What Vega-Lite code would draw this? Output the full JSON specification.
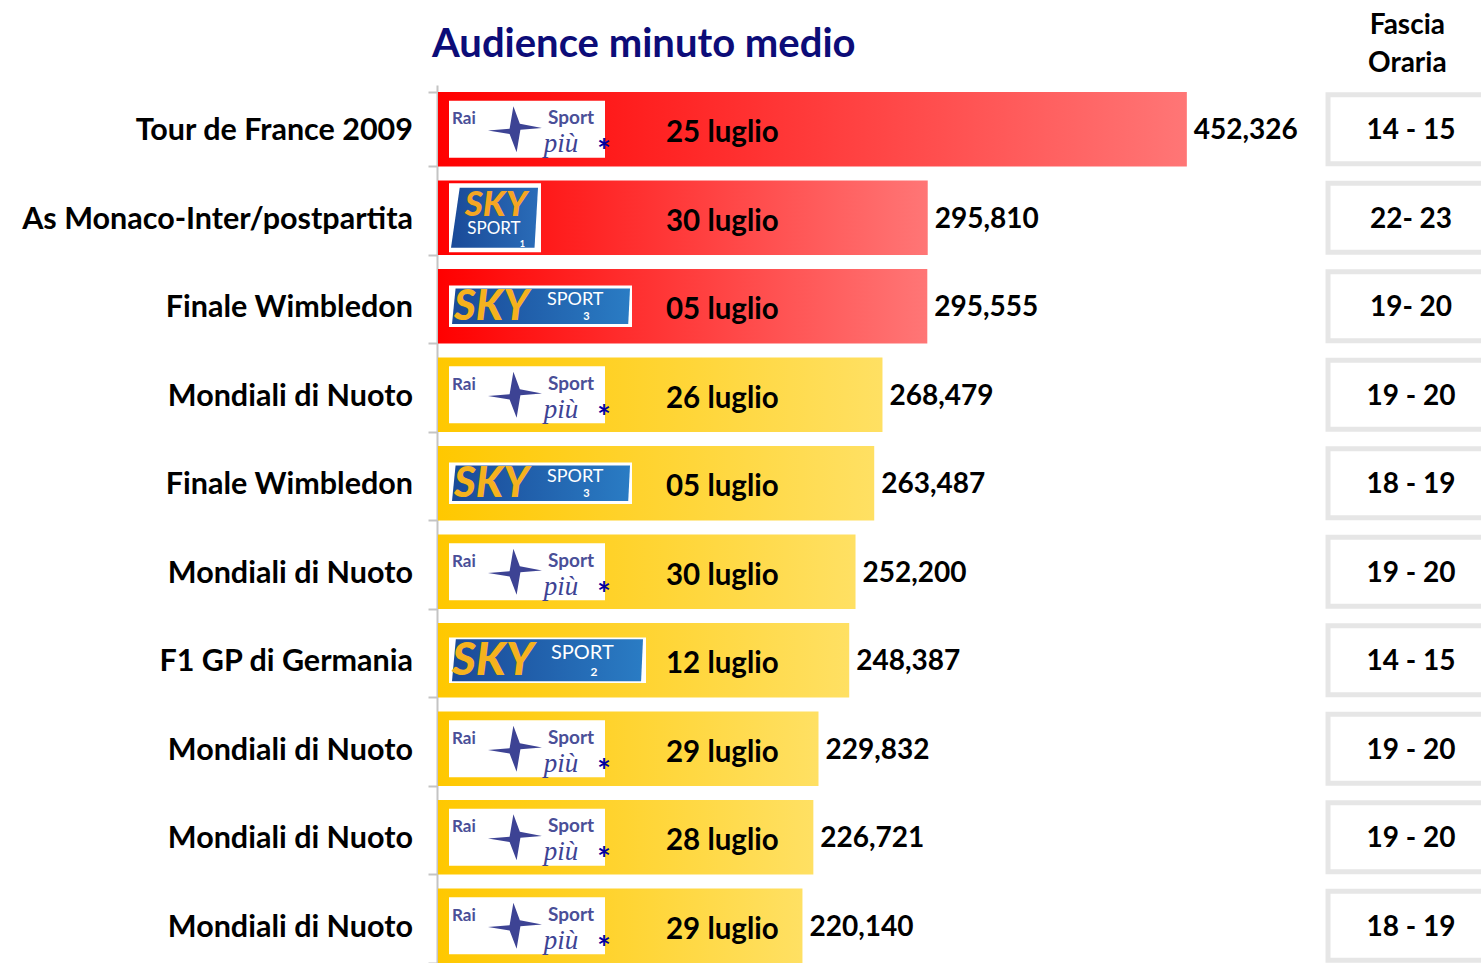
{
  "$schema": "https://vega.github.io/schema/vega-lite/v6.json",
  "width": 1043,
  "height": 885,
  "autosize": {"type": "none"},
  "padding": {"left": 438, "top": 85, "right": 0, "bottom": 0},
  "background": "#ffffff",
  "config": {"view": {"stroke": null}, "font": "Lato", "text": {"font": "Lato"}},
  "title": {"text": "Audience minuto medio", "anchor": "start", "frame": "group", "dx": -6, "offset": -53, "font": "Lato", "fontSize": 40, "fontWeight": "bold", "color": "#0c0c78"},
  "data": {"values": [
    {"rank": 1, "event": "Tour de France 2009", "value": 452326, "date": "25 luglio", "fascia": "14 - 15", "channel": "Rai Sport più", "group": "red"},
    {"rank": 2, "event": "As Monaco-Inter/postpartita", "value": 295810, "date": "30 luglio", "fascia": "22- 23", "channel": "SKY Sport 1", "group": "red"},
    {"rank": 3, "event": "Finale Wimbledon", "value": 295555, "date": "05 luglio", "fascia": "19- 20", "channel": "SKY Sport 3", "group": "red"},
    {"rank": 4, "event": "Mondiali di Nuoto", "value": 268479, "date": "26 luglio", "fascia": "19 - 20", "channel": "Rai Sport più", "group": "yellow"},
    {"rank": 5, "event": "Finale Wimbledon", "value": 263487, "date": "05 luglio", "fascia": "18 - 19", "channel": "SKY Sport 3", "group": "yellow"},
    {"rank": 6, "event": "Mondiali di Nuoto", "value": 252200, "date": "30 luglio", "fascia": "19 - 20", "channel": "Rai Sport più", "group": "yellow"},
    {"rank": 7, "event": "F1 GP di Germania", "value": 248387, "date": "12 luglio", "fascia": "14 - 15", "channel": "SKY Sport 2", "group": "yellow"},
    {"rank": 8, "event": "Mondiali di Nuoto", "value": 229832, "date": "29 luglio", "fascia": "19 - 20", "channel": "Rai Sport più", "group": "yellow"},
    {"rank": 9, "event": "Mondiali di Nuoto", "value": 226721, "date": "28 luglio", "fascia": "19 - 20", "channel": "Rai Sport più", "group": "yellow"},
    {"rank": 10, "event": "Mondiali di Nuoto", "value": 220140, "date": "29 luglio", "fascia": "18 - 19", "channel": "Rai Sport più", "group": "yellow"}
  ]},
  "encoding": {
    "y": {"field": "rank", "type": "ordinal", "scale": {"paddingInner": 0.16, "paddingOuter": 0.08},
      "axis": {"labels": false, "title": null, "domainColor": "#c4c4c4", "domainWidth": 2, "tickColor": "#c4c4c4", "tickWidth": 2, "tickSize": 9, "tickBand": "extent", "offset": 1}}
  },
  "layer": [
    {"transform": [{"filter": "datum.group == 'red'"}],
     "mark": {"type": "bar", "color": {"x1": 0, "y1": 0, "x2": 1, "y2": 0, "gradient": "linear", "stops": [{"offset": 0, "color": "#ff0000"}, {"offset": 1, "color": "#ff7676"}]}},
     "encoding": {"x": {"field": "value", "type": "quantitative", "scale": {"domain": [0, 630000], "nice": false}, "axis": null}}},
    {"transform": [{"filter": "datum.group == 'yellow'"}],
     "mark": {"type": "bar", "color": {"x1": 0, "y1": 0, "x2": 1, "y2": 0, "gradient": "linear", "stops": [{"offset": 0, "color": "#ffc800"}, {"offset": 1, "color": "#ffe063"}]}},
     "encoding": {"x": {"field": "value", "type": "quantitative", "axis": null}}},
    {"mark": {"type": "text", "align": "left", "dx": 7, "dy": 2, "fontSize": 28, "fontWeight": "bold", "color": "#000000"},
     "encoding": {"x": {"field": "value", "type": "quantitative", "axis": null}, "text": {"field": "value", "type": "quantitative", "format": ","}}},
    {"mark": {"type": "text", "align": "left", "dy": 4, "fontSize": 29.5, "fontWeight": "bold", "color": "#000000"},
     "encoding": {"x": {"datum": 137719, "type": "quantitative", "axis": null}, "text": {"field": "date"}}},
    {"mark": {"type": "text", "align": "right", "dx": -25, "dy": 2, "fontSize": 30.5, "fontWeight": "bold", "color": "#000000"},
     "encoding": {"x": {"datum": 0, "type": "quantitative", "axis": null}, "text": {"field": "event"}}},
    {"mark": {"type": "bar", "fill": "#ffffff", "stroke": "#e6e6e6", "strokeWidth": 5, "height": {"band": 0.93}},
     "encoding": {"x": {"datum": 537587, "type": "quantitative", "axis": null}, "x2": {"datum": 700000}}},
    {"mark": {"type": "text", "align": "center", "dy": 2, "fontSize": 28, "fontWeight": "bold", "color": "#000000"},
     "encoding": {"x": {"datum": 587721, "type": "quantitative", "axis": null}, "text": {"field": "fascia"}}},
    {"transform": [{"filter": "datum.rank == 1"}],
     "mark": {"type": "text", "align": "center", "baseline": "middle", "dy": -103, "lineHeight": 38, "fontSize": 28, "fontWeight": "bold", "color": "#000000", "text": ["Fascia", "Oraria"]},
     "encoding": {"x": {"datum": 585500, "type": "quantitative", "axis": null}}},

    {"transform": [{"filter": "datum.channel == 'Rai Sport più'"}],
     "mark": {"type": "bar", "fill": "#ffffff", "height": {"band": 0.77}},
     "encoding": {"x": {"datum": 6644, "type": "quantitative", "axis": null}, "x2": {"datum": 100873}}},
    {"transform": [{"filter": "datum.channel == 'Rai Sport più'"}],
     "mark": {"type": "text", "align": "left", "dy": -10, "fontSize": 17, "fontWeight": "bold", "color": "#4a4f98", "text": "Rai"},
     "encoding": {"x": {"datum": 8456, "type": "quantitative", "axis": null}}},
    {"transform": [{"filter": "datum.channel == 'Rai Sport più'"}],
     "mark": {"type": "point", "filled": true, "color": "#3d4394", "opacity": 1, "size": 2916, "shape": "M -1 0.05 L -0.2 0.18 L 0.06 0.85 L 0.2 0.02 L 1 -0.05 L 0.18 -0.2 L -0.06 -0.85 L -0.2 -0.02 Z"},
     "encoding": {"x": {"datum": 46510, "type": "quantitative", "axis": null}}},
    {"transform": [{"filter": "datum.channel == 'Rai Sport più'"}],
     "mark": {"type": "text", "align": "left", "dy": -11, "fontSize": 19, "fontWeight": "bold", "color": "#4a4f98", "text": "Sport"},
     "encoding": {"x": {"datum": 66443, "type": "quantitative", "axis": null}}},
    {"transform": [{"filter": "datum.channel == 'Rai Sport più'"}],
     "mark": {"type": "text", "align": "center", "dy": 15, "fontSize": 27, "font": "Liberation Serif", "fontStyle": "italic", "color": "#3d4394", "text": "più"},
     "encoding": {"x": {"datum": 74296, "type": "quantitative", "axis": null}}},
    {"transform": [{"filter": "datum.channel == 'Rai Sport più'"}],
     "mark": {"type": "text", "align": "center", "dy": 24, "fontSize": 32, "fontWeight": "bold", "color": "#0000a0", "text": "*"},
     "encoding": {"x": {"datum": 100269, "type": "quantitative", "axis": null}}},

    {"transform": [{"filter": "datum.channel == 'SKY Sport 1'"}],
     "mark": {"type": "bar", "fill": "#ffffff", "height": {"band": 0.93}},
     "encoding": {"x": {"datum": 6644, "type": "quantitative", "axis": null}, "x2": {"datum": 62215}}},
    {"transform": [{"filter": "datum.channel == 'SKY Sport 1'"}],
     "mark": {"type": "point", "filled": true, "opacity": 1, "size": 7569, "shape": "M -1 0.69 L -0.8 -0.69 L 1 -0.69 L 0.92 0.69 Z", "color": {"x1": 0, "y1": 0, "x2": 1, "y2": 0, "gradient": "linear", "stops": [{"offset": 0, "color": "#1a4a98"}, {"offset": 1, "color": "#2a6cb8"}]}},
     "encoding": {"x": {"datum": 34128, "type": "quantitative", "axis": null}}},
    {"transform": [{"filter": "datum.channel == 'SKY Sport 1'"}],
     "mark": {"type": "text", "align": "center", "dy": -13, "fontSize": 35, "fontWeight": 900, "fontStyle": "italic", "color": "#f5a623", "text": "SKY"},
     "encoding": {"x": {"datum": 35034, "type": "quantitative", "axis": null}}},
    {"transform": [{"filter": "datum.channel == 'SKY Sport 1'"}],
     "mark": {"type": "text", "align": "center", "dy": 11, "fontSize": 17, "color": "#ffffff", "text": "SPORT"},
     "encoding": {"x": {"datum": 33826, "type": "quantitative", "axis": null}}},
    {"transform": [{"filter": "datum.channel == 'SKY Sport 1'"}],
     "mark": {"type": "text", "align": "center", "dy": 26, "fontSize": 9, "fontWeight": "bold", "color": "#ffffff", "text": "1"},
     "encoding": {"x": {"datum": 51000, "type": "quantitative", "axis": null}}},

    {"transform": [{"filter": "datum.channel == 'SKY Sport 3'"}],
     "mark": {"type": "bar", "fill": "#ffffff", "height": {"band": 0.56}},
     "encoding": {"x": {"datum": 6644, "type": "quantitative", "axis": null}, "x2": {"datum": 117182}}},
    {"transform": [{"filter": "datum.channel == 'SKY Sport 3'"}],
     "mark": {"type": "point", "filled": true, "opacity": 1, "size": 31684, "shape": "M -1 0.2 L -0.96 -0.2 L 1 -0.2 L 0.98 0.2 Z", "color": {"x1": 0, "y1": 0, "x2": 1, "y2": 0, "gradient": "linear", "stops": [{"offset": 0, "color": "#1a4a98"}, {"offset": 1, "color": "#2a7cc4"}]}},
     "encoding": {"x": {"datum": 62215, "type": "quantitative", "axis": null}}},
    {"transform": [{"filter": "datum.channel == 'SKY Sport 3'"}],
     "mark": {"type": "text", "align": "left", "dy": 1, "fontSize": 42, "fontWeight": 900, "fontStyle": "italic", "color": "#f5b21e", "text": "SKY"},
     "encoding": {"x": {"datum": 9664, "type": "quantitative", "axis": null}}},
    {"transform": [{"filter": "datum.channel == 'SKY Sport 3'"}],
     "mark": {"type": "text", "align": "left", "dy": -6, "fontSize": 18, "color": "#ffffff", "text": "SPORT"},
     "encoding": {"x": {"datum": 65839, "type": "quantitative", "axis": null}}},
    {"transform": [{"filter": "datum.channel == 'SKY Sport 3'"}],
     "mark": {"type": "text", "align": "center", "dy": 11, "fontSize": 11, "fontWeight": "bold", "color": "#ffffff", "text": "3"},
     "encoding": {"x": {"datum": 89700, "type": "quantitative", "axis": null}}},

    {"transform": [{"filter": "datum.channel == 'SKY Sport 2'"}],
     "mark": {"type": "bar", "fill": "#ffffff", "height": {"band": 0.61}},
     "encoding": {"x": {"datum": 6644, "type": "quantitative", "axis": null}, "x2": {"datum": 125638}}},
    {"transform": [{"filter": "datum.channel == 'SKY Sport 2'"}],
     "mark": {"type": "point", "filled": true, "opacity": 1, "size": 36481, "shape": "M -1 0.22 L -0.96 -0.22 L 1 -0.22 L 0.98 0.22 Z", "color": {"x1": 0, "y1": 0, "x2": 1, "y2": 0, "gradient": "linear", "stops": [{"offset": 0, "color": "#1a4a98"}, {"offset": 1, "color": "#2a7cc4"}]}},
     "encoding": {"x": {"datum": 66141, "type": "quantitative", "axis": null}}},
    {"transform": [{"filter": "datum.channel == 'SKY Sport 2'"}],
     "mark": {"type": "text", "align": "left", "dy": 1, "fontSize": 46, "fontWeight": 900, "fontStyle": "italic", "color": "#f5b21e", "text": "SKY"},
     "encoding": {"x": {"datum": 8456, "type": "quantitative", "axis": null}}},
    {"transform": [{"filter": "datum.channel == 'SKY Sport 2'"}],
     "mark": {"type": "text", "align": "left", "dy": -7, "fontSize": 20, "color": "#ffffff", "text": "SPORT"},
     "encoding": {"x": {"datum": 68255, "type": "quantitative", "axis": null}}},
    {"transform": [{"filter": "datum.channel == 'SKY Sport 2'"}],
     "mark": {"type": "text", "align": "center", "dy": 12, "fontSize": 12, "fontWeight": "bold", "color": "#ffffff", "text": "2"},
     "encoding": {"x": {"datum": 94229, "type": "quantitative", "axis": null}}}
  ]
}
